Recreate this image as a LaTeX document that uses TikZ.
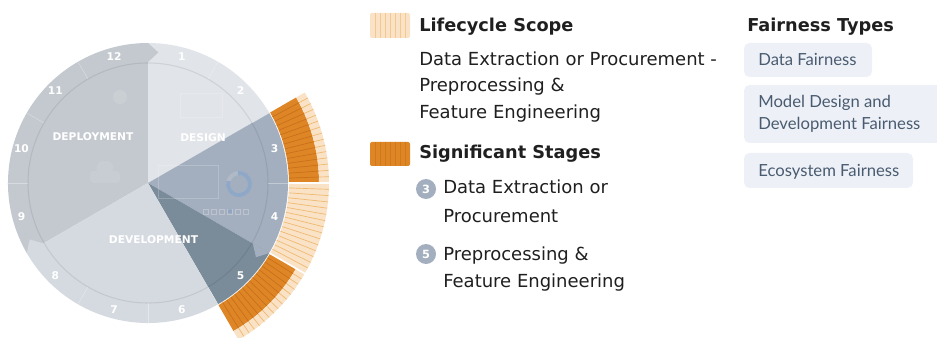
\documentclass[tikz,border=0pt]{standalone}
\usepackage{fontspec}
\setmainfont{DejaVu Sans}
\newfontfamily\latofont{Lato}
\definecolor{deploygray}{HTML}{C3C9CF}
\definecolor{designgray}{HTML}{E1E4E8}
\definecolor{devgray}{HTML}{D5DAE0}
\definecolor{scopeblue}{HTML}{A3AFBE}
\definecolor{stageslate}{HTML}{7A8B99}
\definecolor{stageorange}{HTML}{DE8526}
\definecolor{stageline}{HTML}{C8701A}
\definecolor{scopepeach}{HTML}{F9E2C6}
\definecolor{scopeline}{HTML}{F0B86E}
\definecolor{ringblue}{HTML}{7C9CC8}
\definecolor{typefill}{HTML}{EDF1F7}
\definecolor{typetext}{HTML}{4A5B70}

\begin{document}
\begin{tikzpicture}[x=0.75pt,y=0.75pt,
  stagenum/.style={text=white,inner sep=0pt,font=\fontsize{8}{9}\selectfont\bfseries},
  phaselabel/.style={text=white,inner sep=0pt,font=\fontsize{8}{9}\selectfont\bfseries},
  legendtext/.style={anchor=base west,inner sep=0pt,text=black!88,font=\fontsize{13.5}{16}\selectfont},
  legendhead/.style={legendtext,font=\fontsize{13.3}{16}\selectfont\bfseries},
  badge/.style={circle,fill=scopeblue,text=white,inner sep=0pt,minimum size=15pt,font=\fontsize{8.5}{9}\selectfont\bfseries},
  typetxt/.style={anchor=base west,inner sep=0pt,text=typetext,font=\latofont\fontsize{12.5}{14}\selectfont},
  peachstripe/.style={scopeline,line width=0.5},
  orangestripe/.style={stageline,line width=0.5}]
\useasboundingbox (0,0) rectangle (937,-338);

% the lifecycle wheel
\begin{scope}[shift={(148,-183)}]
% phase wedges
\fill[deploygray] (0,0) -- (210:140) arc[start angle=210,end angle=90,radius=140] -- cycle;
\fill[designgray] (0,0) -- (90:140) arc[start angle=90,end angle=30,radius=140] -- cycle;
\fill[scopeblue] (0,0) -- (30:140) arc[start angle=30,end angle=-30,radius=140] -- cycle;
\fill[stageslate] (0,0) -- (-30:140) arc[start angle=-30,end angle=-60,radius=140] -- cycle;
\fill[devgray] (0,0) -- (-60:140) arc[start angle=-60,end angle=-150,radius=140] -- cycle;

% faint artwork behind the wedges
\fill[white,opacity=0.12] (-28,86) circle (7);
\fill[white,opacity=0.09,rounded corners=3] (-58,0) rectangle (-28,12);
\fill[white,opacity=0.09,rounded corners=3] (-53,12) -- (-49,22) -- (-37,22) -- (-33,12) -- cycle;
\draw[white,opacity=0.2] (32,66) rectangle (74,90);
\draw[white,opacity=0.2] (10,-15) rectangle (70,18);
\draw[white,opacity=0.15,line width=3] (91,-1) circle (11);
\draw[ringblue,opacity=0.6,line width=3] (91,-1) ++(95:11) arc[start angle=95,end angle=-195,radius=11];
\foreach \i in {0,...,5}
  \draw[white,opacity=0.25] ({55+\i*8},-31) rectangle +(5,5);
\fill[ringblue,opacity=0.5] (80,-30) rectangle +(4,4);

% number ring
\draw[black,opacity=0.08,line width=0.8] (0,0) circle (120);
\foreach \a in {60,30,0,-60,-90,-120,180,150,120}
  \draw[white,opacity=0.35] (\a:120) -- (\a:140);
\fill[deploygray] (90:121) -- (90:140) -- (85.5:131) -- cycle;
\fill[scopeblue] (-30:121) -- (-30:140) -- (-34.5:131) -- cycle;
\fill[devgray] (210:121) -- (210:140) -- (205.5:131) -- cycle;
\foreach \n in {1,...,12}
  \node[stagenum] (num\n) at ({75-30*(\n-1)}:131) {\n};

% phase names
\node[phaselabel] (deploy) at (-55,46) {DEPLOYMENT};
\node[phaselabel] (design) at (55,45) {DESIGN};
\node[phaselabel] (develop) at (5.5,-57) {DEVELOPMENT};

% lifecycle scope band
\fill[stageorange] (30:141) arc[start angle=30,end angle=0,radius=141] -- (0:171) arc[start angle=0,end angle=30,radius=171] -- cycle;
\fill[scopepeach] (30:171) arc[start angle=30,end angle=0,radius=171] -- (0:181) arc[start angle=0,end angle=30,radius=181] -- cycle;
\fill[scopepeach] (0:141) arc[start angle=0,end angle=-30,radius=141] -- (-30:181) arc[start angle=-30,end angle=0,radius=181] -- cycle;
\fill[stageorange] (-30:141) arc[start angle=-30,end angle=-60,radius=141] -- (-60:171) arc[start angle=-60,end angle=-30,radius=171] -- cycle;
\fill[scopepeach] (-30:171) arc[start angle=-30,end angle=-60,radius=171] -- (-60:181) arc[start angle=-60,end angle=-30,radius=181] -- cycle;
\foreach \a in {28,26,...,2} {
  \draw[orangestripe] (\a:141) -- (\a:171);
  \draw[peachstripe] (\a:171) -- (\a:181);
}
\foreach \a in {-2,-4,...,-28}
  \draw[peachstripe] (\a:141) -- (\a:181);
\foreach \a in {-32,-34,...,-58} {
  \draw[orangestripe] (\a:141) -- (\a:171);
  \draw[peachstripe] (\a:171) -- (\a:181);
}
\draw[white,line width=1.2] (0:140) -- (0:182);
\draw[white,line width=1.2] (-30:140) -- (-30:182);
\end{scope}

% legend: lifecycle scope
\fill[scopepeach,rounded corners=1.5] (370,-13) rectangle (410,-38);
\foreach \x in {375,380,...,405}
  \draw[peachstripe,opacity=0.6] (\x,-13) -- (\x,-38);
\node[legendhead] (scopehead) at (419,-32) {Lifecycle Scope};
\node[legendtext] (scopeA) at (419,-66) {Data Extraction or Procurement -};
\node[legendtext] (scopeB) at (419,-92) {Preprocessing \&};
\node[legendtext] (scopeC) at (419,-119) {Feature Engineering};

% legend: significant stages
\fill[stageorange,rounded corners=1.5] (370,-142) rectangle (410,-166);
\foreach \x in {375,380,...,405}
  \draw[orangestripe,opacity=0.6] (\x,-142) -- (\x,-166);
\node[legendhead] (stagehead) at (419,-159) {Significant Stages};
\node[badge] (badge3) at (426,-189) {3};
\node[legendtext] (stageA) at (443,-194) {Data Extraction or};
\node[legendtext] (stageB) at (443,-222) {Procurement};
\node[badge] (badge5) at (426,-254) {5};
\node[legendtext] (stageC) at (443,-260) {Preprocessing \&};
\node[legendtext] (stageD) at (443,-287) {Feature Engineering};

% fairness types
\node[legendhead] (typehead) at (747,-32) {Fairness Types};
\begin{scope}
\clip (0,0) rectangle (937,-338);
\fill[typefill,rounded corners=4] (744,-43) rectangle (872,-77);
\fill[typefill,rounded corners=4] (744,-85) rectangle (945,-143);
\fill[typefill,rounded corners=4] (744,-153) rectangle (913,-188);
\end{scope}
\node[typetxt] (datafair) at (758,-66) {Data Fairness};
\node[typetxt] (modelfairA) at (758,-108) {Model Design and};
\node[typetxt] (modelfairB) at (758,-130) {Development Fairness};
\node[typetxt] (ecofair) at (758,-177) {Ecosystem Fairness};
\end{tikzpicture}
\end{document}
